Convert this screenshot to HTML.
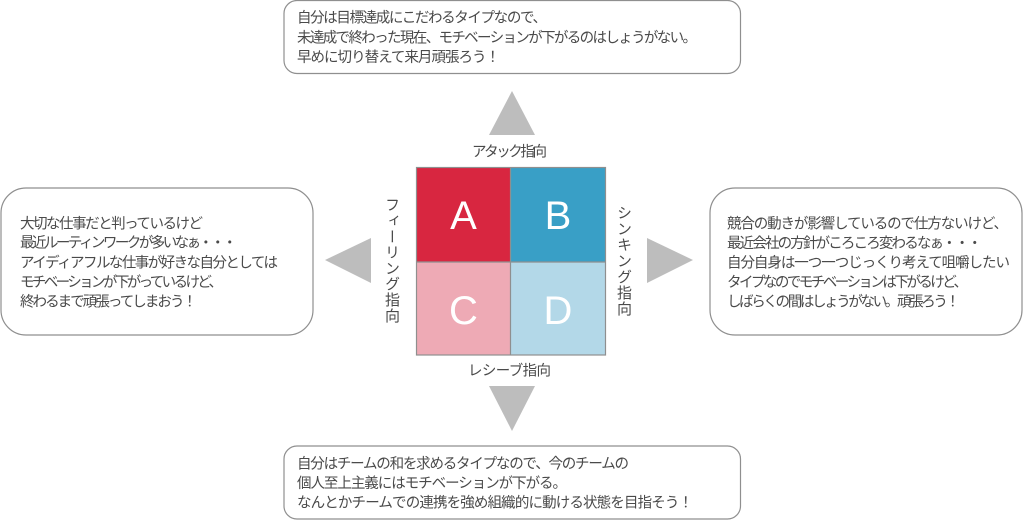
<!DOCTYPE html>
<html lang="ja">
<head>
<meta charset="utf-8">
<style>
html,body{margin:0;padding:0;background:#fff;width:1024px;height:522px;overflow:hidden}
svg{position:absolute;left:0;top:0}
text{font-family:"Liberation Sans","Noto Sans CJK JP",sans-serif;font-size:14.5px;fill:#4a4a4a}
.l{position:absolute;writing-mode:vertical-rl;font-family:"Liberation Sans","Noto Sans CJK JP",sans-serif;font-size:15px;color:#4a4a4a;white-space:nowrap;line-height:16px;width:16px}
</style>
</head>
<body>
<svg width="1024" height="522" viewBox="0 0 1024 522" xmlns="http://www.w3.org/2000/svg">
<g fill="#fff" stroke="#8f8f8f" stroke-width="1.2">
<rect x="284" y="0.5" width="456.5" height="73" rx="13"/>
<rect x="1" y="188" width="312" height="147" rx="25"/>
<rect x="710" y="188" width="312" height="147" rx="25"/>
<rect x="284" y="446" width="456.5" height="73" rx="13"/>
</g>
<g fill="#bdbdbd">
<polygon points="512,91 489,135 535,135"/>
<polygon points="489,386 535,386 512,431"/>
<polygon points="325,260 371,238 371,283"/>
<polygon points="647,238 647,283 693,260"/>
</g>
<rect x="417" y="167.5" width="94" height="94.5" fill="#d82640"/>
<rect x="511" y="167.5" width="94" height="94.5" fill="#399fc6"/>
<rect x="417" y="262" width="94" height="93" fill="#eeaab5"/>
<rect x="511" y="262" width="94" height="93" fill="#b3d8e8"/>
<g fill="none" stroke="#8f8f8f" stroke-width="1.2">
<rect x="416.5" y="167.5" width="189" height="187.5"/>
<path d="M510.5 167.5V355M416.5 262H605.5"/>
</g>
<g text-anchor="middle">
<text x="463.5" y="229" style="font-size:40px;fill:#fff">A</text>
<text x="558" y="229" style="font-size:40px;fill:#fff">B</text>
<text x="463.5" y="324" style="font-size:40px;fill:#fff">C</text>
<text x="558" y="324" style="font-size:40px;fill:#fff">D</text>
</g>
<g>
<text x="297" y="22.5" textLength="250">自分は目標達成にこだわるタイプなので、</text>
<text x="297" y="42.5" textLength="400">未達成で終わった現在、モチベーションが下がるのはしょうがない。</text>
<text x="297" y="62" textLength="203">早めに切り替えて来月頑張ろう！</text>

<text x="20" y="228.5" textLength="183">大切な仕事だと判っているけど</text>
<text x="20" y="247.5" textLength="217">最近ルーティンワークが多いなぁ・・・</text>
<text x="20" y="267.5" textLength="258">アイディアフルな仕事が好きな自分としては</text>
<text x="20" y="287" textLength="203">モチベーションが下がっているけど、</text>
<text x="20" y="306.5" textLength="177">終わるまで頑張ってしまおう！</text>

<text x="727" y="228.5" textLength="281">競合の動きが影響しているので仕方ないけど、</text>
<text x="727" y="248" textLength="255">最近会社の方針がころころ変わるなぁ・・・</text>
<text x="727" y="267.5" textLength="283">自分自身は一つ一つじっくり考えて咀嚼したい</text>
<text x="727" y="287" textLength="241">タイプなのでモチベーションは下がるけど、</text>
<text x="727" y="306.5" textLength="233">しばらくの間はしょうがない。頑張ろう！</text>

<text x="297" y="468.5" textLength="332">自分はチームの和を求めるタイプなので、今のチームの</text>
<text x="297" y="488" textLength="270">個人至上主義にはモチベーションが下がる。</text>
<text x="297" y="507.5" textLength="396">なんとかチームでの連携を強め組織的に動ける状態を目指そう！</text>

<text x="472" y="156.5" textLength="75">アタック指向</text>
<text x="468" y="375.5" textLength="83">レシーブ指向</text>
</g>
</svg>
<div class="l" style="left:383px;top:197px;letter-spacing:0.8px">フィーリング指向</div>
<div class="l" style="left:615px;top:205px;letter-spacing:1px">シンキング指向</div>
</body>
</html>
